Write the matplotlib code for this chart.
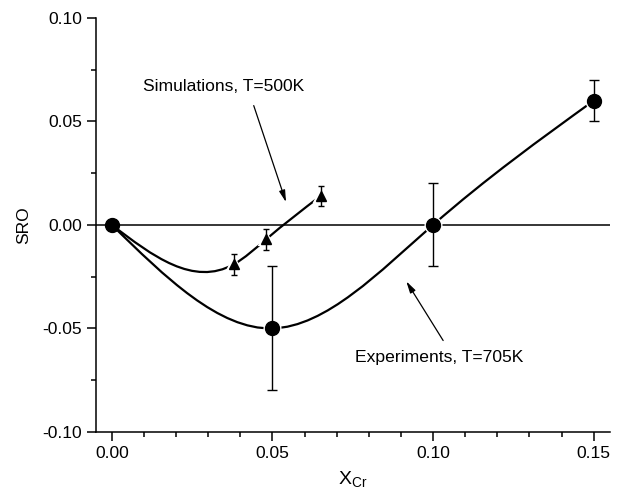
import numpy as np
import matplotlib.pyplot as plt
from matplotlib.path import Path
from matplotlib.patches import PathPatch
from matplotlib.ticker import MultipleLocator

plt.rcParams['font.family'] = ['Liberation Sans', 'DejaVu Sans']
plt.rcParams['mathtext.fontset'] = 'custom'
plt.rcParams['mathtext.rm'] = 'Liberation Sans'

# experiments, T=705K
exp_x = [0.00, 0.05, 0.10, 0.15]
exp_y = [0.00, -0.05, 0.00, 0.06]
exp_err = [0.0, 0.03, 0.02, 0.01]

# simulations, T=500K (first point shared with the origin)
sim_x = [0.00, 0.038, 0.048, 0.065]
sim_y = [0.00, -0.019, -0.007, 0.014]
sim_err = [0.0, 0.005, 0.005, 0.005]


def spline_path(x, y):
    # natural cubic spline through the points, drawn as bezier segments
    x = np.asarray(x, float)
    y = np.asarray(y, float)
    n = len(x)
    h = np.diff(x)
    A = np.zeros((n, n))
    rhs = np.zeros(n)
    A[0, 0] = A[-1, -1] = 1
    for i in range(1, n - 1):
        A[i, i - 1] = h[i - 1]
        A[i, i] = 2 * (h[i - 1] + h[i])
        A[i, i + 1] = h[i]
        rhs[i] = 6 * ((y[i + 1] - y[i]) / h[i] - (y[i] - y[i - 1]) / h[i - 1])
    M = np.linalg.solve(A, rhs)
    verts = [(x[0], y[0])]
    codes = [Path.MOVETO]
    for i in range(n - 1):
        s = (y[i + 1] - y[i]) / h[i]
        m0 = s - h[i] * (2 * M[i] + M[i + 1]) / 6
        m1 = s + h[i] * (M[i] + 2 * M[i + 1]) / 6
        verts += [(x[i] + h[i] / 3, y[i] + h[i] * m0 / 3),
                  (x[i + 1] - h[i] / 3, y[i + 1] - h[i] * m1 / 3),
                  (x[i + 1], y[i + 1])]
        codes += [Path.CURVE4] * 3
    return Path(verts, codes)


fig = plt.figure(figsize=(6.26, 4.97), dpi=100)
ax = fig.add_axes([0.153, 0.131, 0.821, 0.833])

ax.axhline(0, color='black', lw=1.1, zorder=1)

for xs, ys in [(exp_x, exp_y), (sim_x, sim_y)]:
    ax.add_patch(PathPatch(spline_path(xs, ys), fill=False, ec='black', lw=1.6, zorder=2))

# white halo round markers, like the gaps in the original
ax.plot(exp_x[1:], exp_y[1:], 'o', ms=10, mfc='white', mec='white', mew=3, zorder=3)
ax.plot(sim_x[1:], sim_y[1:], '^', ms=7, mfc='white', mec='white', mew=3, zorder=3)

ax.errorbar(exp_x[1:], exp_y[1:], yerr=exp_err[1:], fmt='none', ecolor='black',
            elinewidth=1, capsize=3.3, capthick=1, zorder=4)
ax.errorbar(sim_x[1:], sim_y[1:], yerr=sim_err[1:], fmt='none', ecolor='black',
            elinewidth=1, capsize=2.5, capthick=1, zorder=4)

ax.plot(exp_x, exp_y, 'o', ms=10, color='black', zorder=5)
ax.plot(sim_x[1:], sim_y[1:], '^', ms=7, color='black', zorder=5)

ax.annotate('', xy=(0.0545, 0.0097), xytext=(0.0439, 0.0589),
            arrowprops=dict(arrowstyle='-|>,head_length=0.7,head_width=0.18',
                            color='black', lw=0.9))
ax.annotate('', xy=(0.0912, -0.0261), xytext=(0.1036, -0.057),
            arrowprops=dict(arrowstyle='-|>,head_length=0.7,head_width=0.18',
                            color='black', lw=0.9))
ax.text(0.0096, 0.0667, 'Simulations, T=500K', fontsize=12.6, va='center', ha='left')
ax.text(0.0756, -0.0641, 'Experiments, T=705K', fontsize=12.6, va='center', ha='left')

ax.set_xlim(-0.005, 0.155)
ax.set_ylim(-0.10, 0.10)
ax.xaxis.set_major_locator(MultipleLocator(0.05))
ax.xaxis.set_minor_locator(MultipleLocator(0.01))
ax.yaxis.set_major_locator(MultipleLocator(0.05))
ax.yaxis.set_minor_locator(MultipleLocator(0.025))
ax.xaxis.set_major_formatter(plt.FormatStrFormatter('%.2f'))
ax.yaxis.set_major_formatter(plt.FormatStrFormatter('%.2f'))
ax.tick_params(which='both', direction='out', width=1.1, labelsize=12.6, pad=3.5)
ax.tick_params(which='major', length=6.5)
ax.tick_params(which='minor', length=3.5)

for side in ['top', 'right']:
    ax.spines[side].set_visible(False)
for side in ['left', 'bottom']:
    ax.spines[side].set_linewidth(1.1)

ax.set_xlabel(r'$\mathregular{X_{Cr}}$', fontsize=14, labelpad=6)
ax.set_ylabel('SRO', fontsize=12.6, labelpad=8)

fig.savefig('out.png', dpi=100)
